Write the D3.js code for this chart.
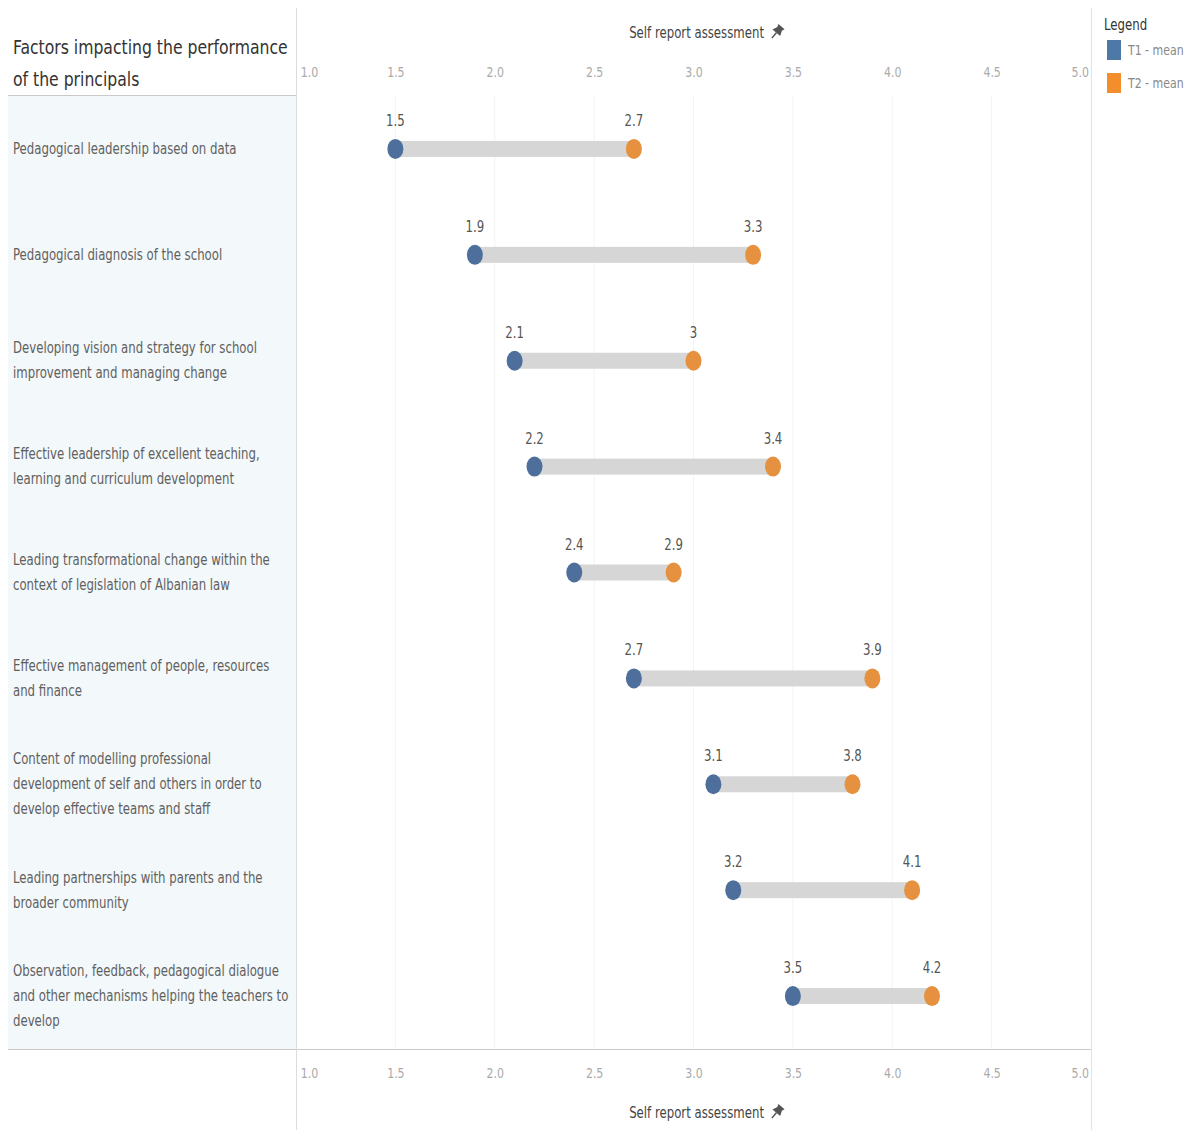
<!DOCTYPE html>
<html>
<head>
<meta charset="utf-8">
<script src="https://cdn.jsdelivr.net/npm/d3@7"></script>
<style>
  body { margin: 0; background: #fff; }
  svg text { font-family: "Liberation Sans Narrow", "DejaVu Sans Condensed", "Roboto", sans-serif; }
</style>
</head>
<body>
<div id="chart"></div>
<script>
// categories (| marks a line break as in the original)
var categories = [
  "Pedagogical leadership based on data",
  "Pedagogical diagnosis of the school",
  "Developing vision and strategy for school|improvement and managing change",
  "Effective leadership of excellent teaching,|learning and curriculum development",
  "Leading transformational change within the|context of legislation of Albanian law",
  "Effective management of people, resources|and finance",
  "Content of modelling professional|development of self and others in order to|develop effective teams and staff",
  "Leading partnerships with parents and the|broader community",
  "Observation, feedback, pedagogical dialogue|and other mechanisms helping the teachers to|develop"
];
var t1Mean = [1.5, 1.9, 2.1, 2.2, 2.4, 2.7, 3.1, 3.2, 3.5];
var t2Mean = [2.7, 3.3, 3.0, 3.4, 2.9, 3.9, 3.8, 4.1, 4.2];
var t2Labels = ["2.7", "3.3", "3", "3.4", "2.9", "3.9", "3.8", "4.1", "4.2"];
var xTicks = [1.0, 1.5, 2.0, 2.5, 3.0, 3.5, 4.0, 4.5, 5.0];
var seriesNames = ["T1 - mean", "T2 - mean"];
var colors = ["#4e6f9c", "#e5913f"];
var legendColors = ["#4e79a7", "#f28e2b"];

var W = 1191, H = 1130;
var panelLeft = 8, plotLeft = 296, plotRight = 1091, rowTop = 96, rowBottom = 1049;
var narrow = 0.87; // squeeze the condensed font toward the original's narrow face

var svg = d3.select("#chart").append("svg")
    .attr("width", W).attr("height", H);

var x = d3.scaleLinear().domain([1, 5]).range([plotLeft, plotRight]);
var y = d3.scaleBand().domain(categories).range([rowTop, rowBottom]);

function place(px, py) {
    return "translate(" + px + "," + py + ") scale(" + narrow + ",1)";
}

// left label panel
svg.append("rect")
    .attr("x", panelLeft).attr("y", rowTop)
    .attr("width", plotLeft - panelLeft).attr("height", rowBottom - rowTop)
    .attr("fill", "#f3f8fa");

// grid lines
svg.append("g").selectAll("line")
    .data(xTicks.slice(1, -1))
    .join("line")
    .attr("x1", function (d) { return x(d); })
    .attr("x2", function (d) { return x(d); })
    .attr("y1", rowTop).attr("y2", rowBottom)
    .attr("stroke", "#f3f3f3").attr("stroke-width", 1);

// frame lines
svg.append("line").attr("x1", panelLeft).attr("x2", plotLeft)
    .attr("y1", rowTop - 0.5).attr("y2", rowTop - 0.5)
    .attr("stroke", "#c9c9c9");
svg.append("line").attr("x1", panelLeft).attr("x2", plotRight)
    .attr("y1", rowBottom + 0.5).attr("y2", rowBottom + 0.5)
    .attr("stroke", "#c9c9c9");
svg.append("line").attr("x1", plotLeft + 0.5).attr("x2", plotLeft + 0.5)
    .attr("y1", 8).attr("y2", H)
    .attr("stroke", "#dcdcdc");
svg.append("line").attr("x1", plotRight + 0.5).attr("x2", plotRight + 0.5)
    .attr("y1", 8).attr("y2", H)
    .attr("stroke", "#e2e2e2");

// header title
svg.append("text")
    .attr("transform", place(13, 54))
    .attr("font-size", 20).attr("fill", "#333")
    .selectAll("tspan")
    .data(["Factors impacting the performance", "of the principals"])
    .join("tspan")
    .attr("x", 0)
    .attr("dy", function (d, i) { return i ? 32 : 0; })
    .text(function (d) { return d; });

// axes
function styleAxis(g) {
    g.select(".domain").remove();
    g.selectAll(".tick line").remove();
    g.selectAll(".tick text")
        .attr("font-size", 14)
        .attr("fill", "#aaa")
        .attr("font-family", "\"Liberation Sans Narrow\", \"DejaVu Sans Condensed\", sans-serif")
        .attr("transform", "scale(" + narrow + ",1)")
        .attr("text-anchor", function (d, i) {
            return i === 0 ? "start" : (i === xTicks.length - 1 ? "end" : "middle");
        })
        .attr("dx", function (d, i) {
            return i === 0 ? 5 : (i === xTicks.length - 1 ? -3 : 0);
        });
}
svg.append("g")
    .attr("transform", "translate(0,77)")
    .call(d3.axisTop(x).tickValues(xTicks).tickFormat(d3.format(".1f")).tickSize(0).tickPadding(0))
    .call(styleAxis);
svg.append("g")
    .attr("transform", "translate(0,1068)")
    .call(d3.axisBottom(x).tickValues(xTicks).tickFormat(d3.format(".1f")).tickSize(0).tickPadding(0))
    .call(styleAxis);

// axis titles with pin
function axisTitle(yPos) {
    var g = svg.append("g");
    g.append("text")
        .attr("transform", place(764, yPos))
        .attr("text-anchor", "end")
        .attr("font-size", 15).attr("fill", "#444")
        .text("Self report assessment");
    var p = g.append("g")
        .attr("transform", "translate(777," + (yPos - 6) + ") rotate(40)");
    p.append("path")
        .attr("d", "M-4,-7 L4,-7 L3,-4 L5,1 L-5,1 L-3,-4 Z")
        .attr("fill", "#555");
    p.append("line").attr("x1", 0).attr("x2", 0).attr("y1", 1).attr("y2", 8)
        .attr("stroke", "#555").attr("stroke-width", 1.5);
}
axisTitle(38);
axisTitle(1118);

// row labels
var labels = svg.append("g").selectAll("text")
    .data(categories)
    .join("text")
    .attr("font-size", 15).attr("fill", "#606060")
    .attr("transform", function (d) {
        var n = d.split("|").length;
        return place(13, y(d) + y.bandwidth() / 2 + 5 - (n - 1) * 12.5);
    });
labels.selectAll("tspan")
    .data(function (d) { return d.split("|"); })
    .join("tspan")
    .attr("x", 0)
    .attr("dy", function (d, i) { return i ? 25 : 0; })
    .text(function (d) { return d; });

// connecting bars
var rows = categories.map(function (c, i) {
    return { cat: c, a: t1Mean[i], b: t2Mean[i], bl: t2Labels[i] };
});
svg.append("g").selectAll("rect")
    .data(rows)
    .join("rect")
    .attr("x", function (d) { return x(d.a); })
    .attr("width", function (d) { return x(d.b) - x(d.a); })
    .attr("y", function (d) { return y(d.cat) + y.bandwidth() / 2 - 8; })
    .attr("height", 16)
    .attr("fill", "#d6d6d6");

// dots + labels
[["a", 0], ["b", 1]].forEach(function (s) {
    var key = s[0], ci = s[1];
    svg.append("g").selectAll("ellipse")
        .data(rows)
        .join("ellipse")
        .attr("cx", function (d) { return x(d[key]); })
        .attr("cy", function (d) { return y(d.cat) + y.bandwidth() / 2; })
        .attr("rx", 8).attr("ry", 10)
        .attr("fill", colors[ci]);
    svg.append("g").selectAll("text")
        .data(rows)
        .join("text")
        .attr("transform", function (d) {
            return place(x(d[key]), y(d.cat) + y.bandwidth() / 2 - 23);
        })
        .attr("text-anchor", "middle")
        .attr("font-size", 15).attr("fill", "#555")
        .text(function (d) { return key === "a" ? d3.format(".1f")(d.a) : d.bl; });
});

// legend
svg.append("text").attr("transform", place(1104, 30))
    .attr("font-size", 15).attr("fill", "#333").text("Legend");
var lg = svg.append("g").selectAll("g")
    .data(seriesNames)
    .join("g")
    .attr("transform", function (d, i) { return "translate(1107," + (40 + i * 33) + ")"; });
lg.append("rect").attr("width", 14).attr("height", 20)
    .attr("fill", function (d, i) { return legendColors[i]; });
lg.append("text").attr("transform", place(21, 15))
    .attr("font-size", 14).attr("fill", "#888")
    .text(function (d) { return d; });
</script>
</body>
</html>
